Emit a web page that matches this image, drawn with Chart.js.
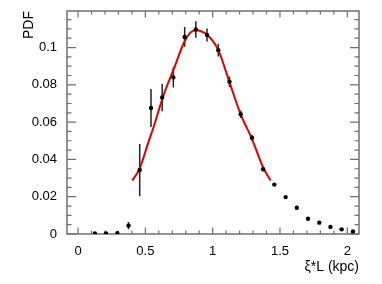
<!DOCTYPE html>
<html><head><meta charset="utf-8">
<script src="https://cdn.jsdelivr.net/npm/chart.js@4/dist/chart.umd.min.js"></script>
<style>html,body{margin:0;padding:0;background:#fff;overflow:hidden}</style>
</head><body>
<canvas id="c" width="382" height="284" style="display:block;width:382px;height:284px"></canvas>
<script>
// ---- data ----
const binCenters = [0.125,0.208,0.292,0.375,0.458,0.542,0.625,0.708,0.792,0.875,0.958,1.042,
                    1.125,1.208,1.292,1.375,1.458,1.542,1.625,1.708,1.792,1.875,1.958,2.042];
const pdfValues  = [0.0003,0.0003,0.0004,0.0045,0.0343,0.0676,0.0732,0.0840,0.1057,0.1097,0.1067,0.0986,
                    0.0817,0.0642,0.0516,0.0347,0.0265,0.0198,0.0141,0.0082,0.0061,0.0038,0.0025,0.0014];
const pdfErrors  = [0,0,0,0.0019,0.0140,0.0102,0.0073,0.0054,0.0053,0.0044,0.0035,0.0034,
                    0.0028,0.0020,0.0015,0.0010,0,0,0,0,0,0,0,0];
const fitX = [0.403,0.458,0.520,0.570,0.631,0.708,0.790,0.834,0.874,0.960,1.042,1.124,1.209,1.290,1.377,1.430];
const fitY = [0.0287,0.0352,0.0486,0.0593,0.0736,0.0879,0.1031,0.1080,0.1093,0.1067,0.0986,0.0816,0.0640,0.0513,0.0354,0.0287];
const xTickValues = [0,0.5,1,1.5,2];
const xTickLabels = ['0','0.5','1','1.5','2'];
const yTickValues = [0,0.02,0.04,0.06,0.08,0.1];
const yTickLabels = ['0','0.02','0.04','0.06','0.08','0.1'];
const xTitle = 'ξ*L (kpc)';
const yTitle = 'PDF';

const FONT = "'Liberation Sans', Arial, Helvetica, sans-serif";

const rootFrame = {
  id: 'rootFrame',
  beforeDatasetsDraw(chart) {
    const {ctx, chartArea: {left, right, top, bottom}, scales: {x, y}} = chart;
    ctx.save();
    ctx.strokeStyle = '#707070';
    ctx.lineWidth = 1.2;
    ctx.beginPath();
    // x ticks (bottom & top)
    for (let k = -10; k <= 30; k++) {
      const v = k * 0.1;
      if (v < x.min || v > x.max) continue;
      const px = x.getPixelForValue(v);
      const major = k % 5 === 0;
      const len = major ? 6.5 : 3.5;
      ctx.moveTo(px, bottom); ctx.lineTo(px, bottom - len);
      ctx.moveTo(px, top); ctx.lineTo(px, top + len);
    }
    // y ticks (left & right)
    for (let k = 0; k <= 30; k++) {
      const v = k * 0.005;
      if (v < y.min || v > y.max) continue;
      const py = y.getPixelForValue(v);
      const major = k % 4 === 0;
      const len = major ? 9 : 4.5;
      ctx.moveTo(left, py); ctx.lineTo(left + len, py);
      ctx.moveTo(right, py); ctx.lineTo(right - len, py);
    }
    ctx.stroke();
    ctx.lineWidth = 1.5;
    ctx.strokeRect(left, top, right - left, bottom - top);
    // error bars
    ctx.strokeStyle = '#222';
    ctx.lineWidth = 1.5;
    ctx.beginPath();
    binCenters.forEach((bx, i) => {
      const e = pdfErrors[i];
      if (!e) return;
      const px = x.getPixelForValue(bx);
      ctx.moveTo(px, y.getPixelForValue(pdfValues[i] - e));
      ctx.lineTo(px, y.getPixelForValue(pdfValues[i] + e));
    });
    ctx.stroke();
    ctx.restore();
  }
};

new Chart(document.getElementById('c'), {
  type: 'scatter',
  data: {
    datasets: [
      {
        label: 'data',
        data: binCenters.map((bx, i) => ({x: bx, y: pdfValues[i]})),
        pointRadius: 2.2,
        pointBackgroundColor: '#000',
        pointBorderWidth: 0,
        showLine: false
      },
      {
        label: 'fit',
        data: fitX.map((fx, i) => ({x: fx, y: fitY[i]})),
        showLine: true,
        borderColor: '#dd0000',
        borderWidth: 2,
        pointRadius: 0,
        cubicInterpolationMode: 'monotone',
        fill: false
      }
    ]
  },
  options: {
    responsive: false,
    devicePixelRatio: 1,
    animation: false,
    layout: {padding: {top: 11, right: 23, left: 0, bottom: 0}},
    plugins: {legend: {display: false}, tooltip: {enabled: false}},
    scales: {
      x: {
        type: 'linear', min: -0.082, max: 2.087,
        afterBuildTicks: s => { s.ticks = xTickValues.map(v => ({value: v})); },
        afterFit: s => { s.height = 50; },
        ticks: {
          callback: (v, i) => xTickLabels[i],
          font: {family: FONT, size: 13}, color: '#000', padding: 2,
          autoSkip: false, maxRotation: 0
        },
        grid: {display: false},
        border: {display: false},
        title: {display: true, text: xTitle, align: 'end', color: '#000',
                font: {family: FONT, size: 14}, padding: {top: 0, bottom: 8}}
      },
      y: {
        type: 'linear', min: 0, max: 0.1196,
        afterBuildTicks: s => { s.ticks = yTickValues.map(v => ({value: v})); },
        afterFit: s => { s.width = 67; },
        ticks: {
          callback: (v, i) => yTickLabels[i],
          font: {family: FONT, size: 13}, color: '#000', padding: 2
        },
        grid: {display: false},
        border: {display: false},
        title: {display: true, text: yTitle, align: 'end', color: '#000',
                font: {family: FONT, size: 14}, padding: {top: 21, bottom: 0}}
      }
    }
  },
  plugins: [rootFrame]
});
</script>
</body></html>
